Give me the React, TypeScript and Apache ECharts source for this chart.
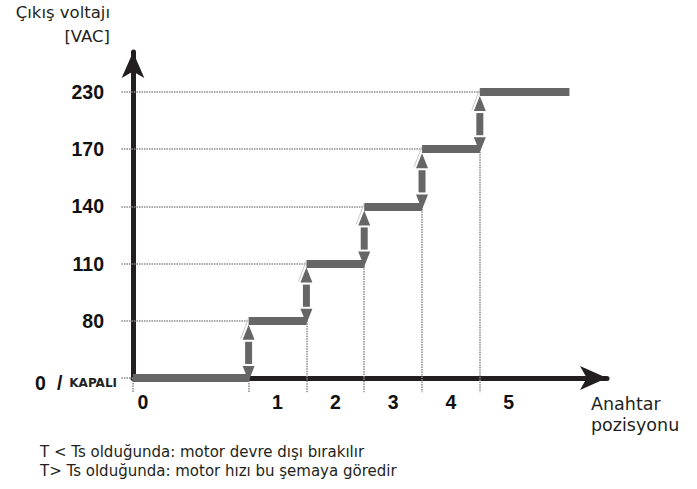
import React, { useEffect, useRef } from "react";
import * as echarts from "echarts";

// Output voltage levels (VAC) for each switch position
const voltages = [0, 80, 110, 140, 170, 230];
const levelLabels = ["0", "80", "110", "140", "170", "230"];
// Switch positions and where each position's step starts/ends on the x axis
const positions = ["0", "1", "2", "3", "4", "5"];
const stepStart = [0, 2, 3, 4, 5, 6];
const stepEnd = [2, 3, 4, 5, 6, 7.55];
const positionLabelAt = [0.17, 2.5, 3.5, 4.5, 5.5, 6.5];

const FONT = "'DejaVu Sans', sans-serif";
const NUMFONT = "'Liberation Sans', Arial, sans-serif";

export default function App() {
  const ref = useRef<HTMLDivElement>(null);
  useEffect(() => {
    document.body.style.margin = "0";
    const chart = echarts.init(ref.current!, null, { renderer: "svg" });
    const lvl = voltages.map((_, i) => i);

    const barData = positions.map((_, i) => ({
      coords: [
        [stepStart[i], lvl[i]],
        [stepEnd[i], lvl[i]],
      ],
    }));
    const hDotted = positions.map((_, i) => ({
      coords: [
        [-0.2, lvl[i]],
        [stepStart[i], lvl[i]],
      ],
    }));
    const vDotted = positions.map((_, i) => ({
      coords: [
        [stepStart[i], i === 0 ? 0 : lvl[i - 1]],
        [stepStart[i], -0.25],
      ],
    }));
    const arrowData = positions.slice(1).map((_, k) => {
      const i = k + 1;
      return [stepStart[i], lvl[i - 1], lvl[i]];
    });

    const numStyle = { fontSize: 19.5, fontWeight: "bold", fontFamily: NUMFONT, color: "#111" };

    chart.setOption({
      animation: false,
      grid: { left: 133, right: 90, top: 52, bottom: 111, outerBoundsMode: "none" },
      xAxis: {
        type: "value",
        min: 0,
        max: 8.2,
        splitLine: { show: false },
        axisTick: { show: false },
        axisLine: {
          show: true,
          lineStyle: { color: "#231f20", width: 5 },
          symbol: ["none", "arrow"],
          symbolSize: [18, 27],
        },
        axisLabel: {
          customValues: positionLabelAt,
          formatter: (v: number) => positions[positionLabelAt.indexOf(v)] ?? "",
          margin: 14,
          ...numStyle,
        },
      },
      yAxis: {
        type: "value",
        min: 0,
        max: 5.7,
        splitLine: { show: false },
        axisTick: { show: false },
        axisLine: {
          show: true,
          lineStyle: { color: "#231f20", width: 5 },
          symbol: ["none", "arrow"],
          symbolSize: [17, 26],
        },
        axisLabel: {
          customValues: lvl,
          margin: 16,
          formatter: (v: number) =>
            v === 0 ? "{z|0}{s|/}{k|KAPALI}" : `{n|${levelLabels[v]}}`,
          rich: {
            n: { ...numStyle, padding: [0, 13, 0, 0] },
            z: { ...numStyle, padding: [10, 0, 0, 0] },
            s: { ...numStyle, padding: [10, 7, 0, 11] },
            k: { fontSize: 12, fontWeight: "bold", fontFamily: FONT, color: "#222", padding: [9, 0, 0, 0] },
          },
        },
      },
      series: [
        {
          type: "lines",
          coordinateSystem: "cartesian2d",
          clip: false,
          silent: true,
          z: 1,
          lineStyle: { color: "#8a8a8a", width: 1.5, type: [1.5, 1], opacity: 1 },
          data: [...hDotted, ...vDotted],
        },
        {
          type: "lines",
          coordinateSystem: "cartesian2d",
          clip: false,
          silent: true,
          z: 3,
          lineStyle: { color: "#666666", width: 8, opacity: 1, cap: "butt" },
          data: barData,
        },
        {
          type: "custom",
          coordinateSystem: "cartesian2d",
          clip: false,
          silent: true,
          z: 4,
          data: arrowData,
          renderItem: (params: any, api: any) => {
            const x = api.value(0);
            const lo = api.value(1);
            const hi = api.value(2);
            const pt = api.coord([x, hi]);
            const pb = api.coord([x, lo]);
            const cx = pt[0];
            const yt = pt[1] + 4;
            const yb = pb[1] + 3;
            const hw = 6;
            const hh = 15;
            const gap = 2;
            const sw = 3.5;
            const fill = { fill: "#666666" };
            return {
              type: "group",
              children: [
                {
                  type: "line",
                  shape: { x1: cx, y1: pt[1] - 3, x2: cx - 8, y2: pt[1] + 18 },
                  style: { stroke: "#c8c8c8", lineWidth: 1 },
                },
                {
                  type: "polygon",
                  shape: { points: [[cx, yt], [cx + hw, yt + hh], [cx - hw, yt + hh]] },
                  style: fill,
                },
                {
                  type: "rect",
                  shape: {
                    x: cx - sw,
                    y: yt + hh + gap,
                    width: sw * 2,
                    height: yb - hh - gap - (yt + hh + gap),
                  },
                  style: fill,
                },
                {
                  type: "polygon",
                  shape: { points: [[cx - hw, yb - hh], [cx + hw, yb - hh], [cx, yb]] },
                  style: fill,
                },
              ],
            };
          },
        },
      ],
      graphic: [
        {
          type: "text",
          x: 110,
          y: 4,
          style: {
            text: "Çıkış voltajı",
            align: "right",
            verticalAlign: "top",
            font: `16.5px ${FONT}`,
            fill: "#231f20",
          },
        },
        {
          type: "text",
          x: 110,
          y: 28,
          style: {
            text: "[VAC]",
            align: "right",
            verticalAlign: "top",
            font: `16.5px ${FONT}`,
            fill: "#231f20",
          },
        },
        {
          type: "text",
          x: 591,
          y: 393,
          style: {
            text: "Anahtar\npozisyonu",
            align: "left",
            verticalAlign: "top",
            font: `17.5px ${FONT}`,
            lineHeight: 21,
            fill: "#231f20",
          },
        },
        {
          type: "text",
          x: 40,
          y: 444,
          style: {
            text: "T < Ts olduğunda: motor devre dışı bırakılır",
            align: "left",
            verticalAlign: "top",
            font: `15px ${FONT}`,
            fill: "#231f20",
          },
        },
        {
          type: "text",
          x: 40,
          y: 463,
          style: {
            text: "T> Ts olduğunda: motor hızı bu şemaya göredir",
            align: "left",
            verticalAlign: "top",
            font: `15px ${FONT}`,
            fill: "#231f20",
          },
        },
      ],
    });
    return () => chart.dispose();
  }, []);
  return (
    <div
      ref={ref}
      style={{ position: "fixed", left: 0, top: 0, width: 697, height: 489, background: "#fff" }}
    />
  );
}
